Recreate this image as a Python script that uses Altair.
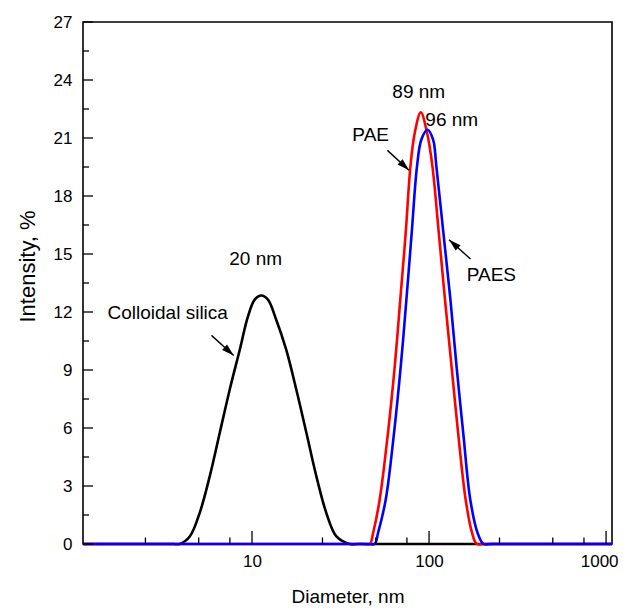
import altair as alt
import pandas as pd

# ---- data ----
silica_d = [1.11, 2, 3, 3.6, 3.9, 4.45, 5.06, 5.77, 6.57, 7.48, 8.53, 9.49, 10.36, 11.3, 12.3, 13.7, 15.6, 17.8, 20.3, 23.1, 26.3, 30.0, 35.6, 40, 60, 150, 400, 1080]
silica_i = [0, 0, 0, 0, 0, 0.39, 1.6, 3.5, 5.74, 7.98, 10.05, 11.77, 12.64, 12.85, 12.64, 11.6, 10.05, 7.98, 5.74, 3.5, 1.6, 0.39, 0, 0, 0, 0, 0, 0]

pae_d = [1.11, 3, 10, 30, 42, 46.3, 48.3, 52.6, 58.6, 64, 68.8, 73.8, 78.5, 83, 89.8, 97.5, 104.5, 113.5, 123, 134, 146, 161, 175, 186, 205, 300, 600, 1080]
pae_i = [0, 0, 0, 0, 0, 0, 0.57, 2.29, 5.74, 9.19, 12.65, 16.09, 19.53, 21.26, 22.33, 21.26, 19.53, 16.09, 12.65, 9.19, 5.74, 2.29, 0.57, 0, 0, 0, 0, 0]

paes_d = [1.11, 3, 10, 30, 45, 49.3, 51.5, 56.9, 63.4, 69.2, 74.5, 79.8, 85.5, 90.5, 98, 105.4, 110, 120.5, 132, 143, 156, 171, 188, 203, 225, 350, 650, 1080]
paes_i = [0, 0, 0, 0, 0, 0, 0.57, 2.29, 5.74, 9.19, 12.65, 16.09, 19.53, 20.92, 21.43, 20.92, 19.53, 16.09, 12.65, 9.19, 5.74, 2.29, 0.57, 0, 0, 0, 0, 0]

series_names = ["Colloidal silica", "PAE", "PAES"]
series_colors = ["#000000", "#ff0000", "#0000ff"]

x_major = [10, 100, 1000]
x_minor = [2.5, 5, 7.5, 25, 50, 75, 250, 500, 750]
y_major = [0, 3, 6, 9, 12, 15, 18, 21, 24, 27]
y_minor = [1.5, 4.5, 7.5, 10.5, 13.5, 16.5, 19.5, 22.5, 25.5]

label_text = ["20 nm", "Colloidal silica", "89 nm", "96 nm", "PAE", "PAES"]
label_x = [10.49, 3.34, 87.5, 134.3, 46.8, 225]
label_y = [14.74, 11.93, 23.36, 21.95, 21.17, 13.93]

arrow_x1 = [5.9, 58.2, 171.5]
arrow_y1 = [10.79, 20.36, 14.74]
arrow_x2 = [7.88, 77.1, 129.7]
arrow_y2 = [9.75, 19.33, 15.74]
arrow_angle = [132, 133, 312]

# ---- chart ----
W, H = 529, 522
FONT = "Liberation Sans"
xscale = alt.Scale(type="log", domain=[1.11, 1080], nice=False)
yscale = alt.Scale(domain=[0, 27], nice=False, zero=False)

x_axis = alt.Axis(values=x_major, format="d", ticks=False, grid=False, domain=False,
                  labelPadding=9, labelFlush=10, labelFlushOffset=12,
                  labelFont=FONT, labelFontSize=17,
                  labelColor="black", title="Diameter, nm", titleFont=FONT,
                  titleFontSize=19, titleFontWeight="normal", titleColor="black",
                  titlePadding=18)
y_axis = alt.Axis(values=y_major, ticks=False, grid=False, domain=False,
                  labelPadding=11, labelFont=FONT, labelFontSize=17, labelColor="black",
                  title="Intensity, %", titleFont=FONT, titleFontSize=22,
                  titleFontWeight="normal", titleColor="black", titlePadding=14,
                  titleY=244)


def X(field):
    return alt.X(field, scale=xscale, axis=x_axis, title="Diameter, nm")


def Y(field):
    return alt.Y(field, scale=yscale, axis=y_axis, title="Intensity, %")


layers = []
all_d = [silica_d, pae_d, paes_d]
all_i = [silica_i, pae_i, paes_i]
for k, (name, col) in enumerate(zip(series_names, series_colors)):
    df = pd.DataFrame({"d": all_d[k], "i": all_i[k], "s": name})
    layers.append(
        alt.Chart(df).mark_line(interpolate="catmull-rom", strokeWidth=2.6, color=col).encode(
            x=X("d:Q"), y=Y("i:Q"),
        )
    )

# inward ticks on the bottom axis
for vals, ln in [(x_major, 13), (x_minor, 6.5)]:
    layers.append(
        alt.Chart(pd.DataFrame({"v": vals})).mark_rule(color="black", strokeWidth=1.3).encode(
            x=X("v:Q"), y=alt.value(H), y2=alt.value(H - ln),
        )
    )
# inward ticks on the left axis
for vals, ln in [(y_major, 10), (y_minor, 6)]:
    layers.append(
        alt.Chart(pd.DataFrame({"v": vals})).mark_rule(color="black", strokeWidth=1.3).encode(
            y=Y("v:Q"), x=alt.value(0), x2=alt.value(ln),
        )
    )

arr = pd.DataFrame({"x1": arrow_x1, "y1": arrow_y1, "x2": arrow_x2, "y2": arrow_y2,
                    "ang": arrow_angle})
layers.append(
    alt.Chart(arr).mark_rule(color="black", strokeWidth=1.4).encode(
        x=X("x1:Q"), y=Y("y1:Q"), x2="x2:Q", y2="y2:Q",
    )
)
layers.append(
    alt.Chart(arr).mark_point(shape="M0,0L0.6,2L-0.6,2Z", filled=True, size=150,
                              color="black", opacity=1, strokeWidth=0).encode(
        x=X("x2:Q"), y=Y("y2:Q"),
        angle=alt.Angle("ang:Q", scale=None),
    )
)

lab = pd.DataFrame({"t": label_text, "x": label_x, "y": label_y})
layers.append(
    alt.Chart(lab).mark_text(font=FONT, fontSize=19, color="black",
                             align="center", baseline="middle").encode(
        x=X("x:Q"), y=Y("y:Q"), text="t:N",
    )
)

chart = alt.layer(*layers).properties(
    width=W, height=H,
    padding={"left": 75, "top": 14, "right": 7, "bottom": 64},
    autosize=alt.AutoSizeParams(type="none"),
    background="white",
).configure_view(stroke="black", strokeWidth=1.6)

chart.save("out.html", embed_options={"renderer": "svg", "actions": False})
